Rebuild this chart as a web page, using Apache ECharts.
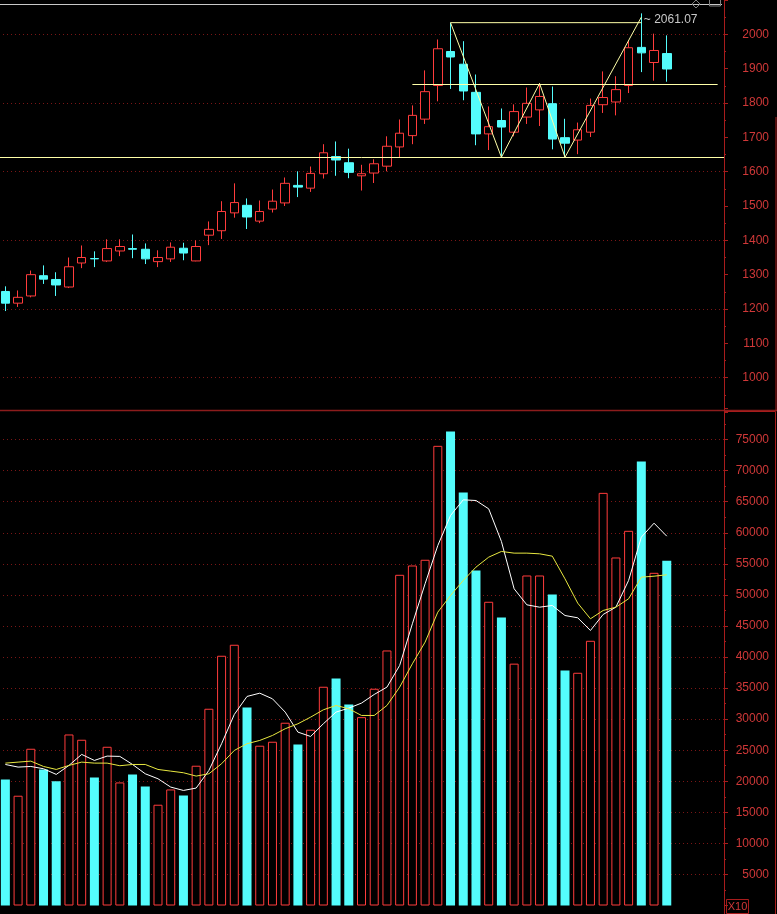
<!DOCTYPE html>
<html><head><meta charset="utf-8">
<script src="https://cdn.jsdelivr.net/npm/echarts@6.0.0/dist/echarts.min.js"></script>
<style>html,body{margin:0;padding:0;background:#000;}#c{width:777px;height:914px;}</style>
</head><body><div id="c"></div>
<script>
// ---- data ----
const categories = ['1','2','3','4','5','6','7','8','9','10','11','12','13','14','15','16','17','18','19','20',
  '21','22','23','24','25','26','27','28','29','30','31','32','33','34','35','36','37','38','39','40',
  '41','42','43','44','45','46','47','48','49','50','51','52','53','','','',''];
const opens  = [1251,1217,1238,1297,1286,1264,1334,1347,1340,1369,1376,1374,1338,1346,1377,1340,1415,1428,1480,1502,
  1456,1491,1509,1560,1552,1594,1644,1626,1588,1596,1616,1672,1705,1753,1851,1950,1913,1831,1710,1749,
  1715,1759,1780,1798,1699,1692,1715,1795,1803,1851,1962,1918,1944];
const closes = [1217,1234,1300,1287,1270,1323,1350,1346,1376,1382,1374,1346,1350,1380,1363,1382,1432,1484,1510,1468,
  1484,1514,1566,1555,1595,1655,1634,1598,1594,1623,1674,1712,1764,1833,1958,1934,1835,1710,1731,1730,
  1775,1799,1819,1695,1683,1722,1793,1816,1839,1961,1946,1953,1899];
const lows   = [1194,1206,1234,1273,1238,1261,1319,1322,1337,1354,1348,1331,1322,1337,1342,1339,1386,1404,1466,1433,
  1450,1481,1500,1526,1541,1580,1588,1581,1545,1567,1601,1641,1680,1739,1805,1841,1808,1677,1663,1642,
  1703,1739,1733,1665,1643,1651,1701,1771,1764,1829,1890,1865,1862];
const highs  = [1266,1254,1312,1327,1307,1350,1385,1368,1403,1403,1417,1391,1371,1394,1393,1400,1455,1514,1566,1522,
  1516,1548,1583,1601,1615,1680,1688,1667,1620,1636,1703,1752,1793,1895,1985,2034,1980,1883,1790,1784,
  1796,1845,1857,1848,1754,1743,1813,1892,1878,1983,2061.07,2002,1997];
const volumes = [20290,17670,25230,21900,20020,27530,26680,20610,25550,19810,21100,19170,16220,18680,17720,22500,31670,40200,41970,31880,
  25720,26360,29420,25930,28290,35210,36550,32360,30320,34890,41050,53230,54730,55650,73990,76290,66480,53930,48890,46360,
  38930,53120,53120,50060,37830,37460,42610,66420,56020,60310,71470,53550,55490];
const volMA5 = [22700,22280,22380,22010,21100,22550,24320,23350,24050,24000,22700,21200,20400,19060,18520,18900,21740,26040,30750,33650,
  34180,33270,31130,27910,27210,29250,31130,31770,32580,33970,35150,38640,45350,51790,57950,62780,65300,65190,63850,58600,
  50980,48400,48020,48290,46680,46310,44270,46850,48020,52320,59290,61540,59450];
const volMA10 = [22920,23080,23240,22380,21900,22550,23080,22920,22920,22500,22700,22700,21900,21630,21370,20830,21200,22820,24960,26040,
  26570,27370,28450,29250,30320,31500,32200,31670,30590,30590,32200,35150,38910,42390,47220,49900,52320,54460,56070,56990,
  56720,56720,56610,56230,52580,48670,46150,47490,48020,49370,52850,53010,53230];
// pattern drawing (W / double bottom)
const zigzag = [[35,2034],[39,1642],[42,1857],[44,1642],[50,2050]];
const topLine = [[35,2034],[50,2034]];
const neckLevel = 1856, neckStart = 32, neckEnd = 56;
const supportLevel = 1642;
const peakLabel = {idx: 50, value: 2061.07, text: '2061.07'};
// axis ranges / ticks
const priceMin = 900, priceMax = 2100, priceStep = 100;
const volMin = 0, volMax = 80000, volStep = 5000;

// ---- styles ----
const UP = '#ff3c3c', DOWN = '#54fcfc', BG = '#000000';
const AXIS = '#a81c1c', LABEL = '#d03838', GRID = '#7a1616';
const FONT = '"Liberation Sans", Arial, sans-serif';

const candleData = opens.map((o, i) => [o, closes[i], lows[i], highs[i]]);
const volData = volumes.map((v, i) => ({
  value: v,
  itemStyle: closes[i] >= opens[i]
    ? {color: BG, borderColor: UP, borderWidth: 1}
    : {color: DOWN, borderColor: DOWN, borderWidth: 0}
}));

const chart = echarts.init(document.getElementById('c'), null, {renderer: 'canvas'});
const yCommon = {
  type: 'value', position: 'right',
  axisLine: {show: true, onZero: false, lineStyle: {color: AXIS, width: 1}},
  axisTick: {show: true, length: 4, lineStyle: {color: AXIS}},
  minorTick: {show: true, splitNumber: 2, length: 2, lineStyle: {color: AXIS}},
  axisLabel: {color: LABEL, fontSize: 12, fontFamily: FONT, align: 'right', margin: 45}
};
chart.setOption({
  backgroundColor: BG,
  animation: false,
  grid: [
    {left: -1, width: 725, top: 0, height: 412, containLabel: false, outerBoundsMode: 'none'},
    {left: -1, width: 725, top: 408.5, height: 497, containLabel: false, outerBoundsMode: 'none'}
  ],
  xAxis: [
    {type: 'category', data: categories, gridIndex: 0, boundaryGap: true, show: false},
    {type: 'category', data: categories, gridIndex: 1, boundaryGap: true, show: false}
  ],
  yAxis: [
    Object.assign({}, yCommon, {
      gridIndex: 0, min: priceMin, max: priceMax, interval: priceStep,
      axisLabel: Object.assign({}, yCommon.axisLabel, {
        formatter: v => (v === priceMin || v === priceMax) ? '' : String(v)}),
      splitLine: {show: true, showMinLine: true, showMaxLine: true,
        lineStyle: {color: ['transparent', GRID], type: [1, 3], width: 1}}
    }),
    Object.assign({}, yCommon, {
      gridIndex: 1, min: volMin, max: volMax, interval: volStep,
      axisLabel: Object.assign({}, yCommon.axisLabel, {
        formatter: v => (v === volMin || v === volMax) ? '' : String(v)}),
      splitLine: {show: true, showMinLine: false, showMaxLine: false,
        lineStyle: {color: GRID, type: [1, 3], width: 1}}
    })
  ],
  series: [
    {
      type: 'candlestick', xAxisIndex: 0, yAxisIndex: 0, data: candleData, barWidth: 9,
      itemStyle: {color: BG, color0: DOWN, borderColor: UP, borderColor0: DOWN, borderWidth: 1},
      markPoint: {
        silent: true, symbol: 'circle', symbolSize: 1,
        itemStyle: {color: 'transparent'},
        label: {show: true, position: 'right', distance: 2, offset: [0, 6],
          color: '#c8c8c8', fontSize: 12, fontFamily: FONT,
          formatter: '~ ' + peakLabel.text},
        data: [{coord: [peakLabel.idx, peakLabel.value]}]
      }
    },
    {
      type: 'line', xAxisIndex: 0, yAxisIndex: 0, data: zigzag, symbol: 'none',
      lineStyle: {color: '#ffffa8', width: 1}, silent: true,
      markLine: {
        silent: true, symbol: ['none', 'none'], label: {show: false},
        lineStyle: {color: '#ffffa8', width: 1, type: 'solid'},
        data: [
          {yAxis: supportLevel},
          [{coord: [neckStart, neckLevel]}, {coord: [neckEnd, neckLevel]}]
        ]
      }
    },
    {
      type: 'line', xAxisIndex: 0, yAxisIndex: 0, data: topLine, symbol: 'none',
      lineStyle: {color: '#ffffa8', width: 1}, silent: true
    },
    {
      type: 'bar', xAxisIndex: 1, yAxisIndex: 1, data: volData, barWidth: 9
    },
    {
      type: 'line', xAxisIndex: 1, yAxisIndex: 1, data: volMA5, symbol: 'none',
      lineStyle: {color: '#ffffff', width: 1}
    },
    {
      type: 'line', xAxisIndex: 1, yAxisIndex: 1, data: volMA10, symbol: 'none',
      lineStyle: {color: '#e8e840', width: 1}
    }
  ],
  graphic: [
    {type: 'line', shape: {x1: 0, y1: 4.5, x2: 722, y2: 4.5}, style: {stroke: '#c8c8c8', lineWidth: 1}, silent: true},
    {type: 'line', shape: {x1: 0, y1: 410.5, x2: 777, y2: 410.5}, style: {stroke: '#8c1c1c', lineWidth: 1.5}, silent: true},
    {type: 'line', shape: {x1: 776, y1: 117, x2: 776, y2: 411}, style: {stroke: AXIS, lineWidth: 1}, silent: true},
    {type: 'rect', shape: {x: 724.5, y: 411.5, width: 51, height: 503}, style: {fill: 'none', stroke: AXIS, lineWidth: 1}, silent: true},
    {type: 'rect', shape: {x: 726.5, y: 899.5, width: 22, height: 14}, style: {fill: 'none', stroke: AXIS, lineWidth: 1}, silent: true},
    {type: 'text', x: 737.5, y: 907, style: {text: 'X10', fill: LABEL, font: '11px ' + FONT, textAlign: 'center', textVerticalAlign: 'middle'}, silent: true},
    {type: 'polygon', shape: {points: [[696, 0], [700, 4], [696, 8], [692, 4]]}, style: {fill: 'none', stroke: '#808080', lineWidth: 1}, silent: true},
    {type: 'rect', shape: {x: 709.5, y: -2, width: 11, height: 8}, style: {fill: 'none', stroke: '#808080', lineWidth: 1}, silent: true}
  ]
});
</script></body></html>
